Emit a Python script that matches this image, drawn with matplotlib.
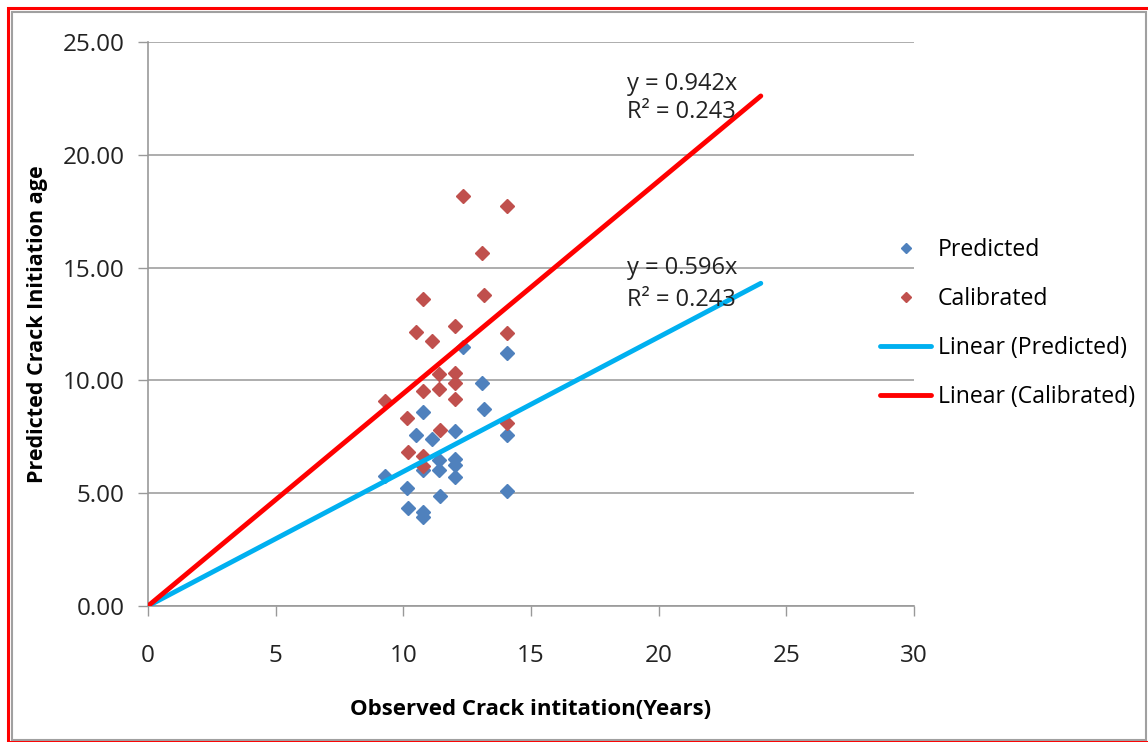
import matplotlib
matplotlib.use('Agg')
from matplotlib import pyplot as plt
from matplotlib.patches import Rectangle
import numpy as np

plt.rcParams['font.family'] = ['Open Sans', 'DejaVu Sans']

# observed crack initiation (years) and model ages
observed = [9.28, 10.13, 10.18, 10.48, 10.78, 10.78, 10.78, 10.78, 11.11, 11.39, 11.39, 11.44,
            12.04, 12.04, 12.04, 12.04, 12.35, 13.09, 13.17, 14.05, 14.05, 14.05]
predicted = [5.76, 5.23, 4.33, 7.59, 8.59, 6.03, 4.18, 3.96, 7.39, 6.47, 6.03, 4.88,
             7.77, 6.50, 6.25, 5.73, 11.49, 9.90, 8.72, 11.20, 7.59, 5.11]
calibrated = [9.10, 8.35, 6.81, 12.15, 13.59, 9.54, 6.65, 6.21, 11.75, 10.28, 9.60, 7.80,
              12.42, 10.31, 9.87, 9.16, 18.17, 15.63, 13.79, 17.73, 12.09, 8.10]

slope_pred = 0.596
slope_cal = 0.942
r2 = 0.243
trend_x = [0, 24]

fig = plt.figure(figsize=(11.48, 7.42), dpi=100)
W, H = 1148, 742

# chart frame: red outer border, gray inner border
fig.patches.append(Rectangle((8 / W, 0), 2, 1 - 8 / H, transform=fig.transFigure,
                             fill=False, edgecolor='#ff0000', linewidth=2.2))
fig.patches.append(Rectangle((12 / W, 2 / H), 1134 / W, 1 - 14 / H, transform=fig.transFigure,
                             fill=False, edgecolor='#a0a0a0', linewidth=1.5))

ax = fig.add_axes([148 / W, 1 - 606 / H, (914 - 148) / W, (606 - 42) / H])

ax.plot(observed, predicted, 'D', color='#4f81bd', markersize=7, label='Predicted', zorder=3)
ax.plot(observed, calibrated, 'D', color='#c0504d', markersize=7, label='Calibrated', zorder=3)

tx = np.array(trend_x)
ax.plot(tx, slope_pred * tx, color='#00b0f0', linewidth=3.5, solid_capstyle='round',
        label='Linear (Predicted)', zorder=4)
ax.plot(tx, slope_cal * tx, color='#ff0000', linewidth=3.5, solid_capstyle='round',
        label='Linear (Calibrated)', zorder=4)

# trendline equations
txt = dict(fontsize=17, va='center', color='#222222', zorder=5)
ax.text(18.76, 23.14, f'y = {slope_cal}x', **txt)
ax.text(18.76, 21.90, f'R² = {r2}', **txt)
ax.text(18.76, 14.98, f'y = {slope_pred}x', **txt)
ax.text(18.76, 13.56, f'R² = {r2}', **txt)

ax.set_xlim(0, 30)
ax.set_ylim(0, 25)
ax.set_xticks(range(0, 31, 5))
ax.set_yticks(np.arange(0, 26, 5))
ax.set_yticklabels([f'{v:.2f}' for v in np.arange(0, 26, 5)])
ax.tick_params(axis='both', labelsize=17.5, colors='#222222', length=7, width=1,
               color='#999999', direction='out')
ax.tick_params(axis='x', pad=20)
ax.tick_params(axis='y', pad=10)
ax.grid(axis='y', color='#a0a0a0', linewidth=1.2)
ax.set_axisbelow(True)
for side in ('top', 'right'):
    ax.spines[side].set_visible(False)
for side in ('left', 'bottom'):
    ax.spines[side].set_color('#999999')
    ax.spines[side].set_linewidth(1.2)

ax.set_xlabel('Observed Crack intitation(Years)', fontsize=16, fontweight='bold', labelpad=23)
ax.set_ylabel('Predicted Crack Initiation age', fontsize=15.5, fontweight='bold', labelpad=10)

leg = ax.legend(loc='upper left', bbox_to_anchor=(0.944, 0.668), frameon=False, fontsize=16.6,
                handlelength=2.2, handletextpad=0.3, labelspacing=1.08, markerscale=0.75,
                borderaxespad=0)

fig.savefig('out.png', dpi=100)
